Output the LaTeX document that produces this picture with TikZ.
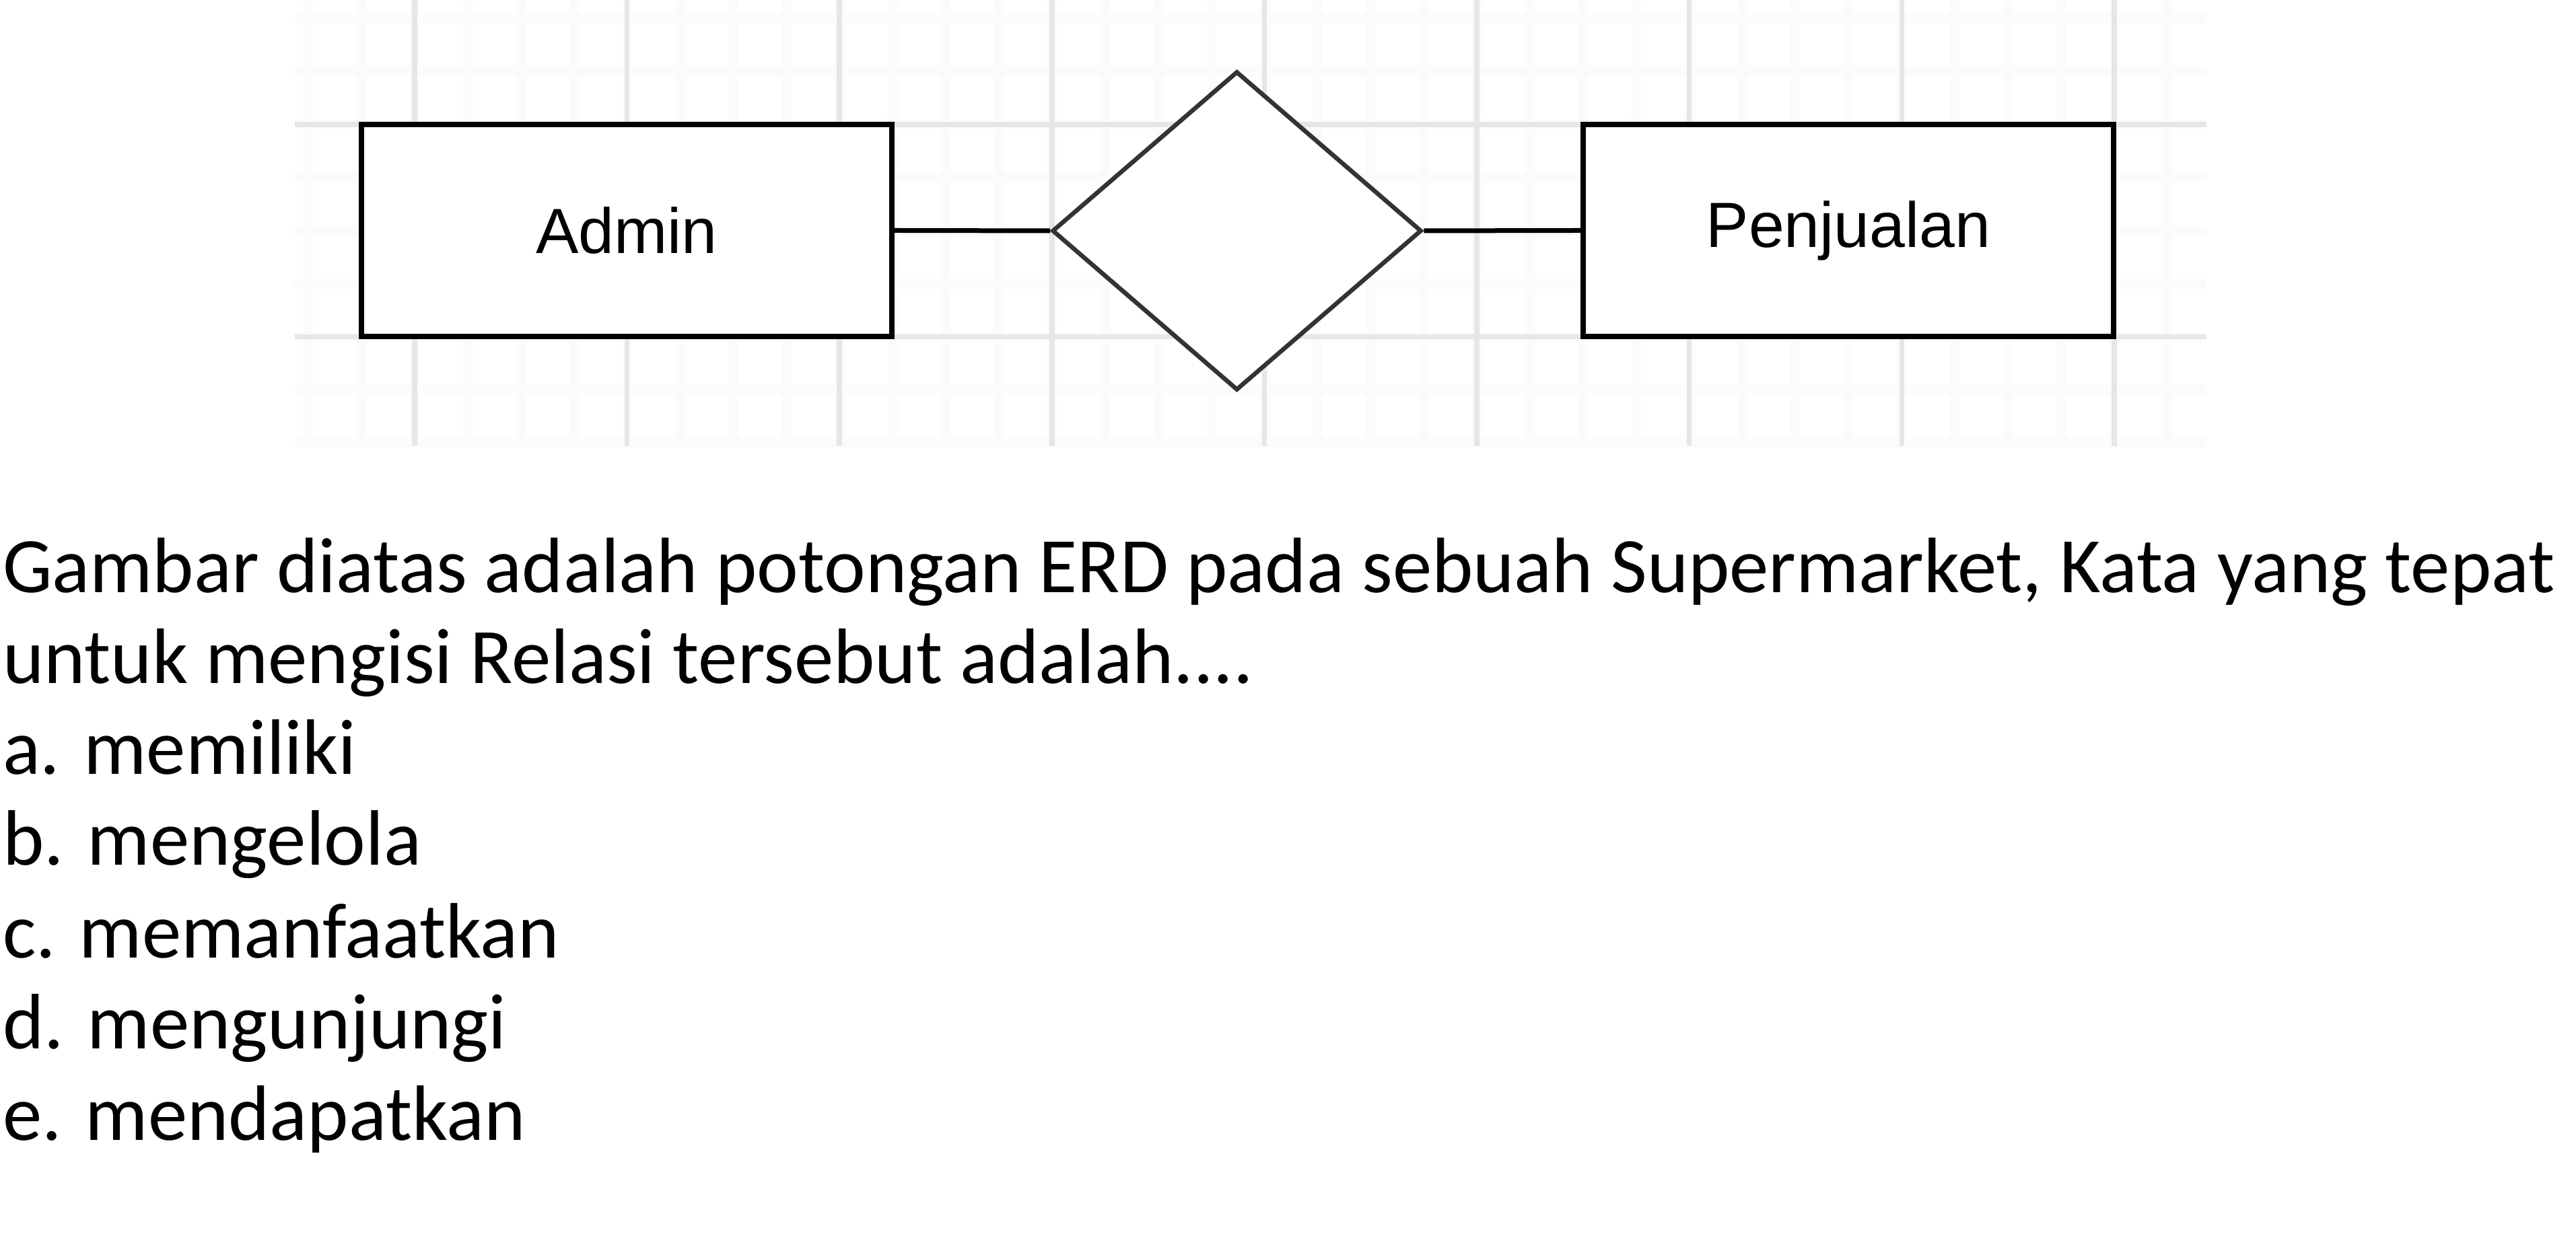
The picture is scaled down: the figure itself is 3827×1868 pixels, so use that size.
\documentclass[tikz,border=0pt]{standalone}
\usepackage{fontspec}
\setmainfont{Carlito}
\newfontfamily\erdfont{Liberation Sans}
\usetikzlibrary{shapes.geometric}
\definecolor{gridmajor}{HTML}{E6E6E6}
\definecolor{gridminor}{HTML}{FBFBFB}
\definecolor{diamline}{HTML}{333333}
\tikzset{
  entity/.style={draw=black, line width=0.8pt, fill=white, rectangle,
    minimum width=78.8pt, minimum height=31.5pt, inner sep=0pt,
    font=\erdfont\fontsize{9.5pt}{11pt}\selectfont},
  relation/.style={draw=diamline, line width=0.65pt, fill=white, diamond,
    minimum width=54.9pt, minimum height=47.4pt, inner sep=0pt},
  conn/.style={draw=black, line width=0.7pt},
  minorline/.style={draw=gridminor, line width=1.4pt},
  majorline/.style={draw=gridmajor, line width=0.75pt},
  qtext/.style={anchor=base west, inner sep=0pt,
    font=\fontsize{11.68pt}{13.55pt}\selectfont}
}
\begin{document}
\begin{tikzpicture}[x=0.1pt,y=-0.1pt]
\useasboundingbox[fill=white] (0,0) rectangle (3827,1868);
% grid: minor lines
\foreach \k in {-2,...,33}{
  \draw[minorline] ({616+78.9*\k},0) -- ({616+78.9*\k},663);
}
\foreach \j in {-2,...,6}{
  \draw[minorline] (438,{185+78.9*\j}) -- (3278,{185+78.9*\j});
}
% grid: major lines
\foreach \k in {0,4,...,32}{
  \draw[majorline] ({616+78.9*\k},0) -- ({616+78.9*\k},663);
}
\foreach \j in {0,4}{
  \draw[majorline] (438,{185+78.9*\j}) -- (3278,{185+78.9*\j});
}
% ERD
\node[entity] (admin) at (931,342.5) {Admin};
\node[relation] (rel) at (1837.5,343) {};
\node[entity] (penj) at (2746,342.5) {Penjualan};
\draw[conn] (admin.east) -- (rel.west);
\draw[conn] (rel.east) -- (penj.west);
% question text
\node[qtext] (l1) at (2,881) {Gambar diatas adalah potongan ERD pada sebuah Supermarket, Kata yang tepat};
\node[qtext] (l2) at (2,1016) {untuk mengisi Relasi tersebut adalah....};
\node[qtext] (la) at (2,1150.5) {a. memiliki};
\node[qtext] (lb) at (2,1286) {b. mengelola};
\node[qtext] (lc) at (2,1423) {c. memanfaatkan};
\node[qtext] (ld) at (2,1558.5) {d. mengunjungi};
\node[qtext] (le) at (2,1694) {e. mendapatkan};
\end{tikzpicture}
\end{document}
